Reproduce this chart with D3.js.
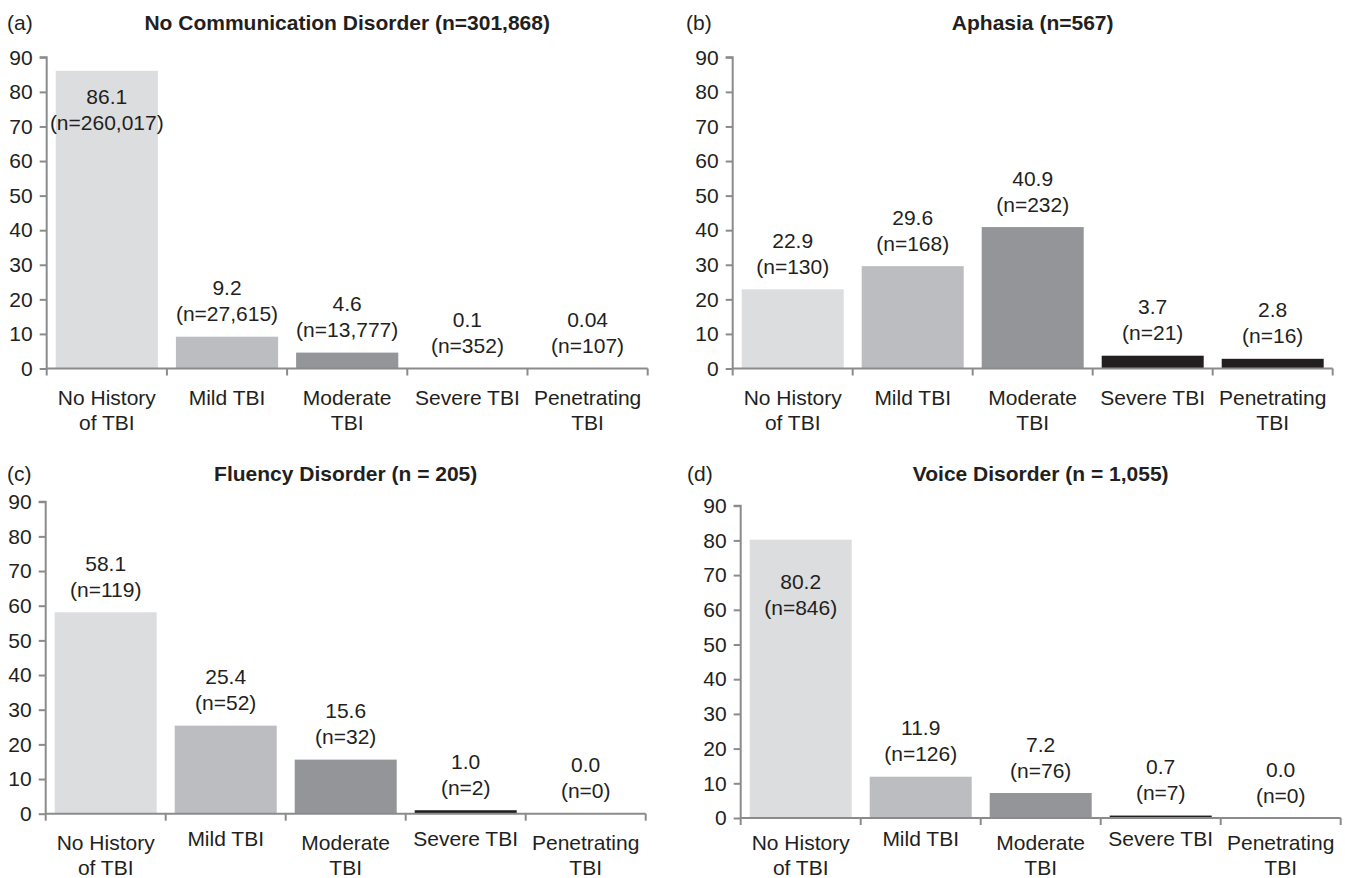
<!DOCTYPE html>
<html>
<head>
<meta charset="utf-8">
<script src="https://cdn.jsdelivr.net/npm/d3@7"></script>
<style>
  html, body { margin: 0; padding: 0; background: #ffffff; }
  svg { display: block; }
  text { font-family: "Liberation Sans", Arial, Helvetica, sans-serif; fill: #231f20; }
</style>
</head>
<body>
<svg id="chart" width="1345" height="878"></svg>
<script>
// ---------- data ----------
const categories = ["No History of TBI", "Mild TBI", "Moderate TBI", "Severe TBI", "Penetrating TBI"];
const categoryLines = [["No History", "of TBI"], ["Mild TBI"], ["Moderate", "TBI"], ["Severe TBI"], ["Penetrating", "TBI"]];
const yTicks = [0, 10, 20, 30, 40, 50, 60, 70, 80, 90];

const panelTags = ["(a)", "(b)", "(c)", "(d)"];
const panelTitles = [
  "No Communication Disorder (n=301,868)",
  "Aphasia (n=567)",
  "Fluency Disorder (n = 205)",
  "Voice Disorder (n = 1,055)"
];

const pctNoDisorder = [86.1, 9.2, 4.6, 0.1, 0.04];
const nNoDisorder   = [260017, 27615, 13777, 352, 107];
const pctAphasia    = [22.9, 29.6, 40.9, 3.7, 2.8];
const nAphasia      = [130, 168, 232, 21, 16];
const pctFluency    = [58.1, 25.4, 15.6, 1.0, 0.0];
const nFluency      = [119, 52, 32, 2, 0];
const pctVoice      = [80.2, 11.9, 7.2, 0.7, 0.0];
const nVoice        = [846, 126, 76, 7, 0];

const seriesPct = [pctNoDisorder, pctAphasia, pctFluency, pctVoice];
const seriesN   = [nNoDisorder, nAphasia, nFluency, nVoice];

// ---------- style / layout ----------
const barColors = ["#dcdddf", "#bcbdc0", "#939598", "#231f20", "#231f20"];
const axisColor = "#8a8b8d";
const fontSize = 21;
const titleSize = 21;

const layouts = [
  { x0: 46.7,  x1: 647.7,  yTop: 57.3,  yBot: 368.5, titleY: 22,  tagX: 7,   catDy: 28.5, singleShift: 0,  insideDy: 26 },
  { x0: 732.7, x1: 1332.7, yTop: 57.3,  yBot: 368.5, titleY: 22,  tagX: 686, catDy: 28.5, singleShift: 0,  insideDy: 26 },
  { x0: 45.7,  x1: 645.7,  yTop: 501.7, yBot: 813.7, titleY: 473, tagX: 7,   catDy: 28.3, singleShift: -4, insideDy: 26 },
  { x0: 740.7, x1: 1340.7, yTop: 505.7, yBot: 818,   titleY: 473, tagX: 687, catDy: 24,   singleShift: -4, insideDy: 42 }
];

const fmtPct = v => (v > 0 && v < 0.1) ? v.toFixed(2) : v.toFixed(1);
const fmtN = d3.format(",");

const svg = d3.select("#chart");

layouts.forEach((L, p) => {
  const g = svg.append("g");
  const data = categories.map((c, i) => ({ cat: c, i, pct: seriesPct[p][i], n: seriesN[p][i] }));

  const x = d3.scaleBand().domain(categories).range([L.x0, L.x1]).paddingInner(0.15).paddingOuter(0.075);
  const y = d3.scaleLinear().domain([0, 90]).range([L.yBot, L.yTop]);

  // panel tag & title
  g.append("text").attr("x", L.tagX).attr("y", L.titleY)
    .attr("dominant-baseline", "central").style("font-size", fontSize + "px")
    .text(panelTags[p]);
  g.append("text").attr("x", (L.x0 + L.x1) / 2).attr("y", L.titleY)
    .attr("text-anchor", "middle").attr("dominant-baseline", "central")
    .style("font-size", titleSize + "px").style("font-weight", "bold")
    .text(panelTitles[p]);

  // bars
  g.selectAll("rect.bar").data(data).enter().append("rect")
    .attr("class", "bar")
    .attr("x", d => x(d.cat))
    .attr("width", x.bandwidth())
    .attr("y", d => y(d.pct))
    .attr("height", d => y(0) - y(d.pct))
    .attr("fill", (d, i) => barColors[i]);

  // y axis
  const yAxis = d3.axisLeft(y).tickValues(yTicks).tickSize(7).tickPadding(7).tickFormat(d3.format("d"));
  const ya = g.append("g").attr("transform", `translate(${L.x0},0)`).call(yAxis);
  ya.select(".domain").attr("stroke", axisColor).attr("stroke-width", 2)
    .attr("d", `M-7,${L.yTop}H0V${L.yBot}`);
  ya.selectAll(".tick line").attr("stroke", axisColor).attr("stroke-width", 2);
  ya.selectAll(".tick text").style("font-size", fontSize + "px").attr("fill", "#231f20")
    .style("font-family", '"Liberation Sans", Arial, sans-serif');

  // x axis: baseline + ticks at band boundaries
  const bounds = categories.map(c => x(c) - x.step() * x.paddingInner() / 2).concat([L.x1]);
  g.append("line").attr("x1", L.x0).attr("x2", L.x1).attr("y1", y(0)).attr("y2", y(0))
    .attr("stroke", axisColor).attr("stroke-width", 2);
  g.selectAll("line.xtick").data(bounds).enter().append("line")
    .attr("class", "xtick")
    .attr("x1", d => d).attr("x2", d => d)
    .attr("y1", y(0)).attr("y2", y(0) + 7)
    .attr("stroke", axisColor).attr("stroke-width", 2);

  // category labels
  data.forEach(d => {
    const lines = categoryLines[d.i];
    const t = g.append("text")
      .attr("x", x(d.cat) + x.bandwidth() / 2)
      .attr("y", y(0) + L.catDy + (lines.length === 1 ? L.singleShift : 0))
      .attr("text-anchor", "middle").attr("dominant-baseline", "central")
      .style("font-size", fontSize + "px");
    lines.forEach((ln, k) => {
      t.append("tspan").attr("x", x(d.cat) + x.bandwidth() / 2).attr("dy", k === 0 ? 0 : 24.5).text(ln);
    });
  });

  // value labels
  data.forEach(d => {
    const inside = d.pct > 75;
    const top = y(d.pct);
    const y1 = inside ? top + L.insideDy : top - 49;
    const cx = x(d.cat) + x.bandwidth() / 2;
    g.append("text").attr("x", cx).attr("y", y1)
      .attr("text-anchor", "middle").attr("dominant-baseline", "central")
      .style("font-size", fontSize + "px").text(fmtPct(d.pct));
    g.append("text").attr("x", cx).attr("y", y1 + 26)
      .attr("text-anchor", "middle").attr("dominant-baseline", "central")
      .style("font-size", fontSize + "px").text("(n=" + fmtN(d.n) + ")");
  });
});
</script>
</body>
</html>
